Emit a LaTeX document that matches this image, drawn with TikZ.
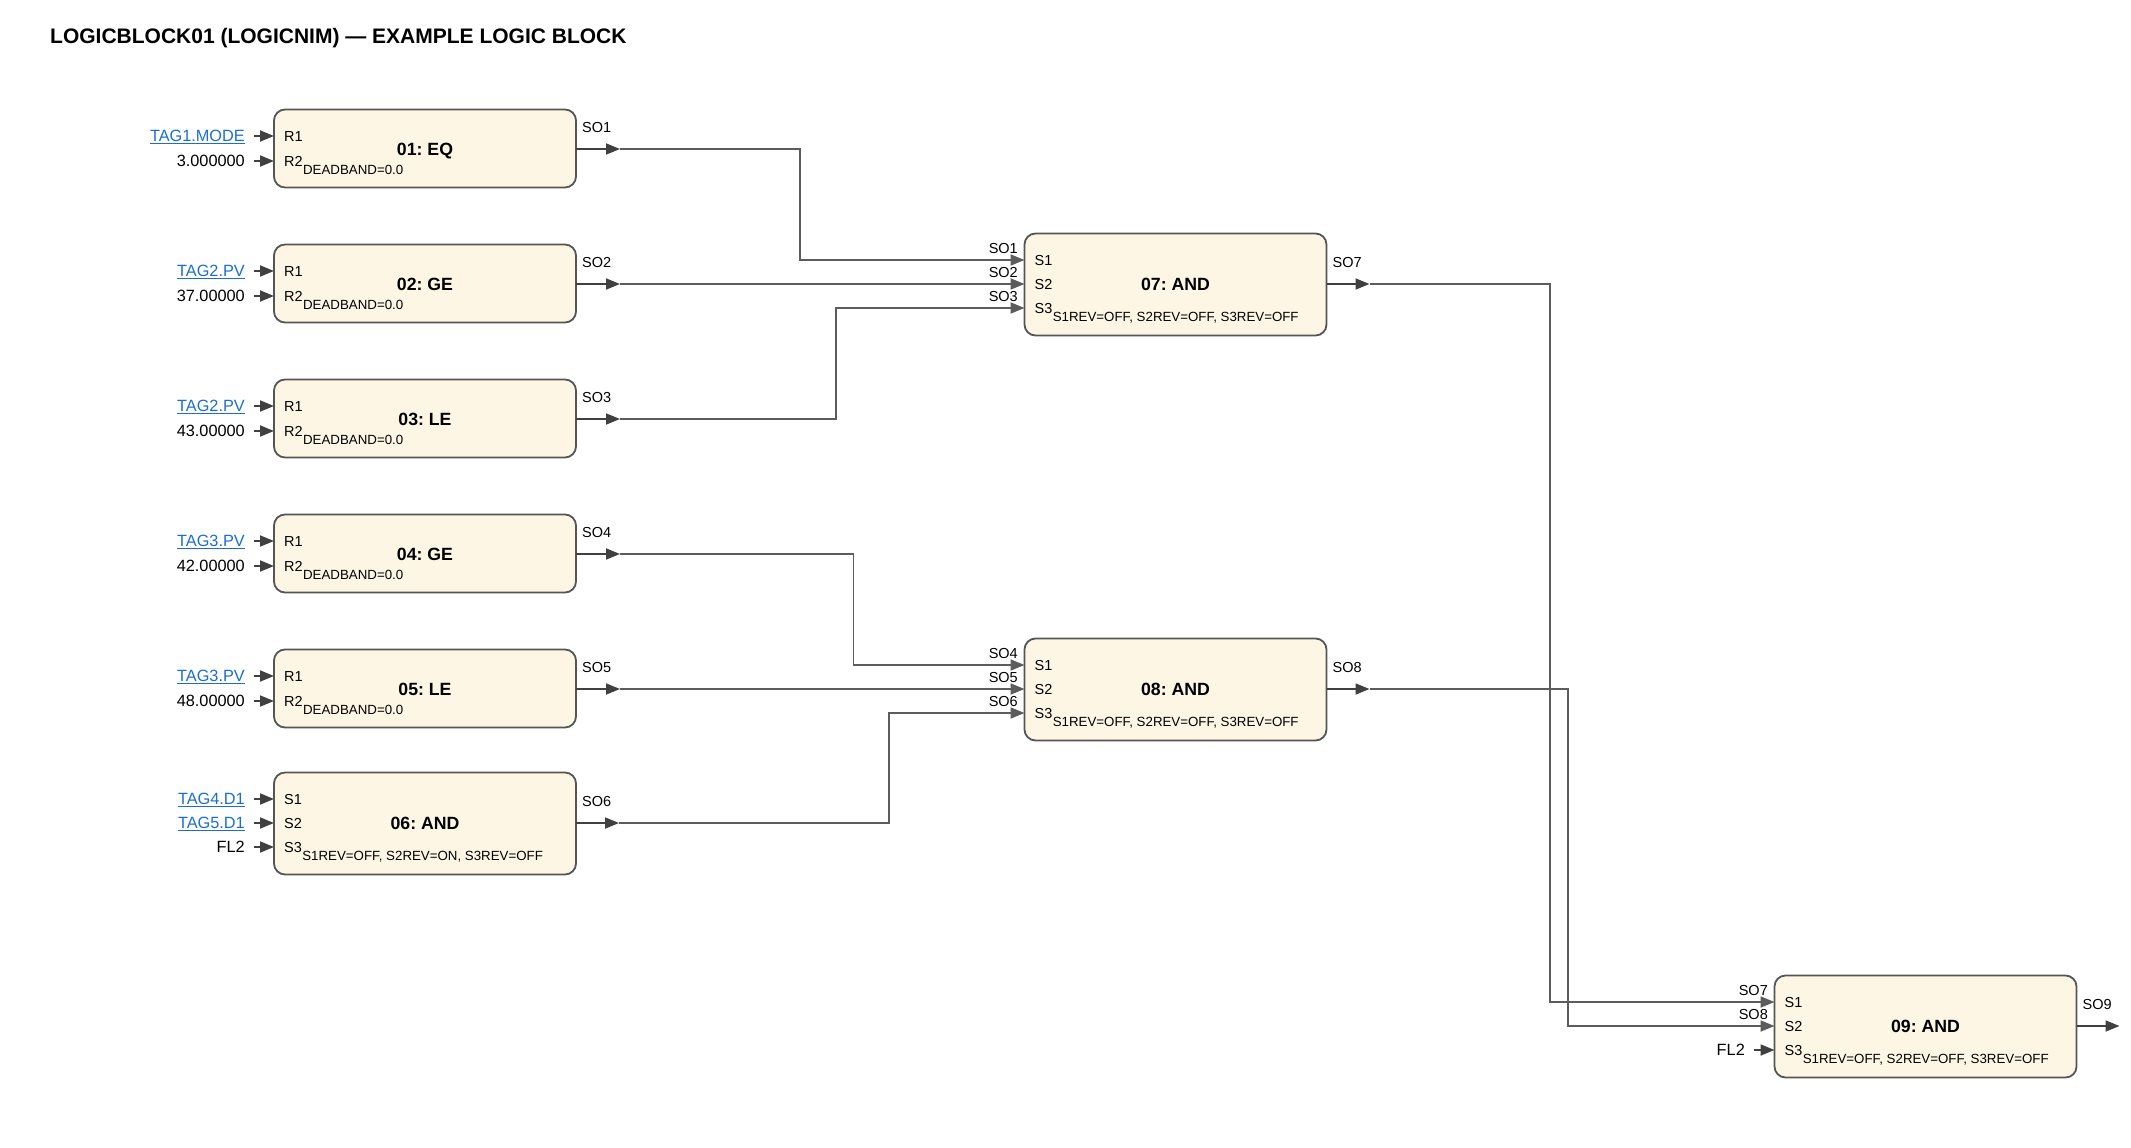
\documentclass[tikz,border=0pt]{standalone}
\usepackage{fontspec}
\setmainfont{Liberation Sans}
\usetikzlibrary{arrows.meta}
\frenchspacing
\definecolor{blkfill}{RGB}{253,246,228}
\definecolor{bordc}{RGB}{85,85,85}
\definecolor{wirec}{RGB}{92,92,92}
\definecolor{arrc}{RGB}{64,64,64}
\definecolor{linkc}{RGB}{26,110,210}
\tikzset{
  blk/.style={draw=bordc, fill=blkfill, line width=1.8pt, rounded corners=11pt, inner sep=0pt},
  inlab/.style={font=\fontsize{16.3}{19}\selectfont, anchor=base east, inner sep=0pt},
  portlab/.style={font=\fontsize{14.5}{17}\selectfont, anchor=base west, inner sep=0pt},
  parlab/.style={font=\fontsize{13.3}{16}\selectfont, anchor=base west, inner sep=0pt},
  ttl/.style={font=\bfseries\fontsize{17.7}{20}\selectfont, anchor=base, inner sep=0pt},
  solab/.style={font=\fontsize{14.5}{17}\selectfont, inner sep=0pt},
  stub/.style={draw=arrc, line width=1.8pt, -{Triangle[length=14pt,width=11pt]}},
  wire/.style={draw=wirec, line width=1.8pt, -{Triangle[length=14pt,width=11pt]}},
}
\newcommand{\lnk}[1]{\textcolor{linkc}{\underline{#1}}}
% two-input comparison block: name, cx, out y, title, in1, in2, out label
\newcommand{\blkTwo}[7]{%
  \node[blk, minimum width=302pt, minimum height=78pt] (#1) at (#2,#3-0.5) {};
  \node[ttl] (#1-t) at (#2,#3+6.2) {#4};
  \coordinate (#1-p1) at (#2-151,#3-13);
  \coordinate (#1-p2) at (#2-151,#3+12);
  \node[portlab] (#1-l1) at (#2-141,#3-13+5.2) {R1};
  \node[portlab] (#1-l2) at (#2-141,#3+12+5.2) {R2};
  \node[parlab] (#1-pa) at ([yshift=-8.2pt]#1-l2.base east) {DEADBAND=0.0};
  \node[inlab] (#1-i1) at (#2-180,#3-13+5.8) {#5};
  \node[inlab] (#1-i2) at (#2-180,#3+12+5.8) {#6};
  \coordinate (#1-q1) at (#2-171,#3-13);
  \coordinate (#1-q2) at (#2-171,#3+12);
  \draw[stub] (#1-q1) -- (#1-p1);
  \draw[stub] (#1-q2) -- (#1-p2);
  \coordinate (#1-o) at (#2+151,#3);
  \coordinate (#1-ot) at (#2+195,#3);
  \draw[stub] (#1-o) -- (#1-ot);
  \node[solab, anchor=base west] (#1-ol) at (#2+157,#3-17) {#7};
}
% three-input AND block: name, cx, out y, title, param, out label
\newcommand{\blkThree}[6]{%
  \node[blk, minimum width=302pt, minimum height=102pt] (#1) at (#2,#3+0.5) {};
  \node[ttl] (#1-t) at (#2,#3+6.2) {#4};
  \coordinate (#1-p1) at (#2-151,#3-24);
  \coordinate (#1-p2) at (#2-151,#3);
  \coordinate (#1-p3) at (#2-151,#3+24);
  \node[portlab] (#1-l1) at (#2-141,#3-24+5.2) {S1};
  \node[portlab] (#1-l2) at (#2-141,#3+5.2) {S2};
  \node[portlab] (#1-l3) at (#2-141,#3+24+5.2) {S3};
  \node[parlab] (#1-pa) at ([yshift=-8.2pt]#1-l3.base east) {#5};
  \coordinate (#1-o) at (#2+151,#3);
  \coordinate (#1-ot) at (#2+194,#3);
  \draw[stub] (#1-o) -- (#1-ot);
  \node[solab, anchor=base west] (#1-ol) at (#2+157,#3-17) {#6};
}
\begin{document}
\begin{tikzpicture}[x=1pt,y=-1pt]
\useasboundingbox (0,0) rectangle (2131,1148);
\node[font=\bfseries\fontsize{21}{25}\selectfont, anchor=base west, inner sep=0pt] (title) at (50,44) {LOGICBLOCK01 (LOGICNIM) — EXAMPLE LOGIC BLOCK};

\blkTwo{b1}{425}{149}{01: EQ}{\lnk{TAG1.MODE}}{3.000000}{SO1}
\blkTwo{b2}{425}{284}{02: GE}{\lnk{TAG2.PV}}{37.00000}{SO2}
\blkTwo{b3}{425}{419}{03: LE}{\lnk{TAG2.PV}}{43.00000}{SO3}
\blkTwo{b4}{425}{554}{04: GE}{\lnk{TAG3.PV}}{42.00000}{SO4}
\blkTwo{b5}{425}{689}{05: LE}{\lnk{TAG3.PV}}{48.00000}{SO5}

\blkThree{b6}{425}{823}{06: AND}{S1REV=OFF, S2REV=ON, S3REV=OFF}{SO6}
\node[inlab] (b6-i1) at (245,823-24+5.8) {\lnk{TAG4.D1}};
\node[inlab] (b6-i2) at (245,823+5.8) {\lnk{TAG5.D1}};
\node[inlab] (b6-i3) at (245,823+24+5.8) {FL2};
\coordinate (b6-q1) at (254,799);
\coordinate (b6-q2) at (254,823);
\coordinate (b6-q3) at (254,847);
\draw[stub] (b6-q1) -- (b6-p1);
\draw[stub] (b6-q2) -- (b6-p2);
\draw[stub] (b6-q3) -- (b6-p3);

\blkThree{b7}{1175.5}{284}{07: AND}{S1REV=OFF, S2REV=OFF, S3REV=OFF}{SO7}
\blkThree{b8}{1175.5}{689}{08: AND}{S1REV=OFF, S2REV=OFF, S3REV=OFF}{SO8}
\blkThree{b9}{1925.5}{1026}{09: AND}{S1REV=OFF, S2REV=OFF, S3REV=OFF}{SO9}

% wires into 07
\draw[wire] (b1-ot) -- ++(180pt,0) |- (b7-p1);
\draw[wire] (b2-ot) -- (b7-p2);
\draw[wire] (b3-ot) -- ++(216pt,0) |- (b7-p3);
\node[solab, anchor=base east] (b7-s1) at (1018,260-7) {SO1};
\node[solab, anchor=base east] (b7-s2) at (1018,284-7) {SO2};
\node[solab, anchor=base east] (b7-s3) at (1018,308-7) {SO3};
% wires into 08
\draw[wire] (b4-ot) -- ++(233.5pt,0) |- (b8-p1);
\draw[wire] (b5-ot) -- (b8-p2);
\draw[wire] (b6-ot) -- ++(270pt,0) |- (b8-p3);
\node[solab, anchor=base east] (b8-s1) at (1018,665-7) {SO4};
\node[solab, anchor=base east] (b8-s2) at (1018,689-7) {SO5};
\node[solab, anchor=base east] (b8-s3) at (1018,713-7) {SO6};
% wires into 09
\draw[wire] (b7-ot) -- ++(180.5pt,0) |- (b9-p1);
\draw[wire] (b8-ot) -- ++(198.5pt,0) |- (b9-p2);
\node[solab, anchor=base east] (b9-s1) at (1768,1002-7) {SO7};
\node[solab, anchor=base east] (b9-s2) at (1768,1026-7) {SO8};
\node[inlab] (b9-i3) at (1745,1050+5.8) {FL2};
\coordinate (b9-q3) at (1754,1050);
\draw[stub] (b9-q3) -- (b9-p3);
\end{tikzpicture}
\end{document}
